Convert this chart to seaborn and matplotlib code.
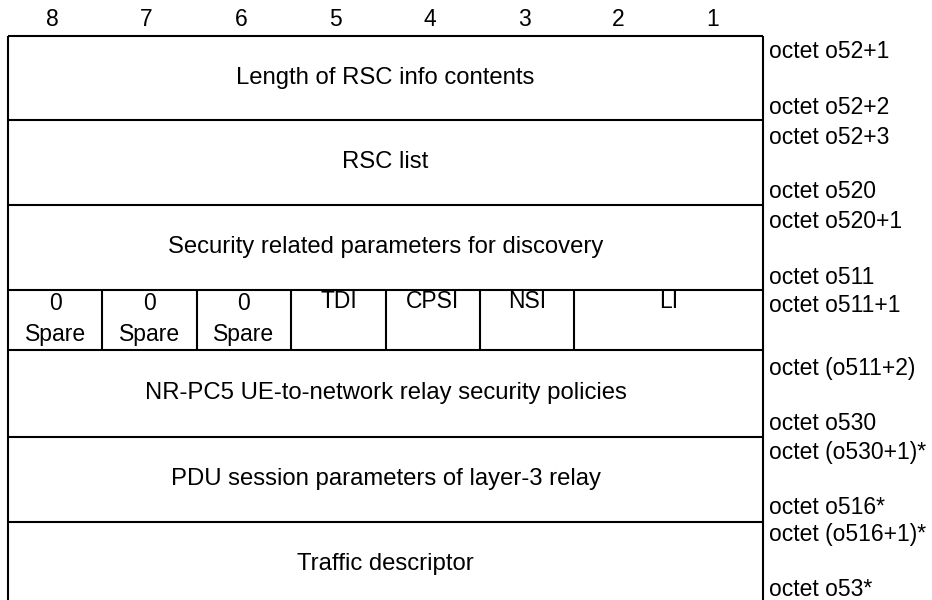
import matplotlib
matplotlib.use("Agg")
import matplotlib.pyplot as plt
import seaborn as sns

sns.set_theme(style="white")
plt.rcParams['font.family'] = ['Liberation Sans', 'DejaVu Sans']

# ---- content ----
bit_labels = ['8', '7', '6', '5', '4', '3', '2', '1']
wide_fields = ['Length of RSC info contents', 'RSC list',
               'Security related parameters for discovery', None,
               'NR-PC5 UE-to-network relay security policies',
               'PDU session parameters of layer-3 relay', 'Traffic descriptor']
flag_top = ['0', '0', '0', 'TDI', 'CPSI', 'NSI', 'LI']
flag_bottom = ['Spare', 'Spare', 'Spare', '', '', '', '']
flag_spans = [1, 1, 1, 1, 1, 1, 2]
octet_first = ['octet o52+1', 'octet o52+3', 'octet o520+1', 'octet o511+1',
               'octet (o511+2)', 'octet (o530+1)*', 'octet (o516+1)*']
octet_last = ['octet o52+2', 'octet o520', 'octet o511', None,
              'octet o530', 'octet o516*', 'octet o53*']

# ---- layout (pixel space) ----
x0, colw = 8, 94.4
row_edges = [36, 120, 205, 290, 350, 437, 522, 606]
first_off = [15, 17, 17, 15, 18, 15, 13]
last_off = [12, 13, 13, 0, 14, 15, 16]

fig = plt.figure(figsize=(9.32, 6.0), dpi=100)
ax = fig.add_axes([0, 0, 1, 1])
ax.set_xlim(0, 932)
ax.set_ylim(600, 0)
ax.axis('off')

lw = 1.5
fs = 17.2
fs_oct = 16.5
xr = x0 + 8 * colw
for i, lab in enumerate(bit_labels):
    ax.text(x0 + (i + 0.5) * colw - 3, 20, lab, ha='center', va='center', fontsize=fs_oct, color='black')

ax.vlines([x0, xr], row_edges[0], 610, color='black', lw=lw)
ax.hlines(row_edges[:-1], x0, xr, color='black', lw=lw)

for r, lab in enumerate(wide_fields):
    top, bot = row_edges[r], row_edges[r + 1]
    if lab is not None:
        ax.text((x0 + xr) / 2, (top + bot) / 2, lab, ha='center', va='center', fontsize=fs, color='black')
    else:
        c = 0
        for t1, t2, sp in zip(flag_top, flag_bottom, flag_spans):
            if c > 0:
                ax.vlines(x0 + c * colw, top, bot, color='black', lw=lw)
            cx = x0 + (c + sp / 2) * colw
            ax.text(cx, top + (14 if t2 else 11), t1, ha='center', va='center', fontsize=fs_oct, color='black')
            if t2:
                ax.text(cx, top + 45, t2, ha='center', va='center', fontsize=fs_oct, color='black')
            c += sp
    ax.text(xr + 6, top + first_off[r], octet_first[r], ha='left', va='center', fontsize=fs_oct, color='black')
    if octet_last[r] is not None:
        ax.text(xr + 6, bot - last_off[r], octet_last[r], ha='left', va='center', fontsize=fs_oct, color='black')

fig.savefig('out.png', dpi=100, facecolor='white')
